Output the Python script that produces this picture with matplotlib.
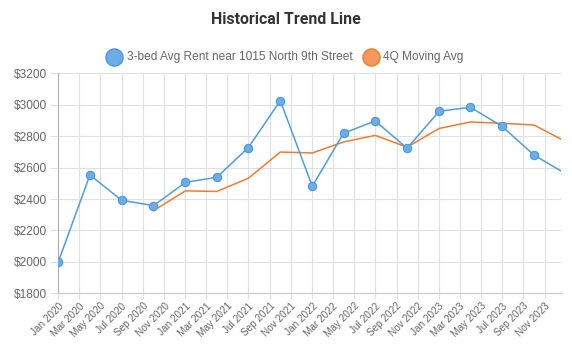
import matplotlib
matplotlib.use("Agg")
import matplotlib.pyplot as plt
import matplotlib.dates as mdates
from matplotlib.lines import Line2D
import datetime as dt

# ---- data ----
quarters = ["2020-01-01", "2020-04-01", "2020-07-01", "2020-10-01",
            "2021-01-01", "2021-04-01", "2021-07-01", "2021-10-01",
            "2022-01-01", "2022-04-01", "2022-07-01", "2022-10-01",
            "2023-01-01", "2023-04-01", "2023-07-01", "2023-10-01",
            "2024-01-01"]
rent = [2000, 2553, 2392, 2358, 2506, 2538, 2727, 3026,
        2481, 2818, 2897, 2723, 2958, 2984, 2863, 2680, 2560]
ma_quarters = quarters[3:]
moving_avg = [2326, 2452, 2448, 2532, 2699, 2693, 2763, 2805,
              2730, 2849, 2890, 2882, 2871, 2765]
series_names = ["3-bed Avg Rent near 1015 North 9th Street", "4Q Moving Avg"]
title = "Historical Trend Line"
y_ticks = [1800, 2000, 2200, 2400, 2600, 2800, 3000, 3200]

W, H = 572, 347
fig = plt.figure(figsize=(W / 100, H / 100), dpi=100)
L, R, T, B = 58.3, 561, 73.3, 293.3
ax = fig.add_axes([L / W, 1 - B / H, (R - L) / W, (B - T) / H])

dates = [dt.datetime.strptime(d, "%Y-%m-%d") for d in quarters]
ma_dates = [dt.datetime.strptime(d, "%Y-%m-%d") for d in ma_quarters]

blue_line = "#4e9de0"
blue_fill = "#6eace5"
blue_edge = "#4a97dd"
orange_line = "#f07b32"
orange_fill = "#f59a5c"
orange_edge = "#ef7c30"

ax.plot(ma_dates, moving_avg, color=orange_line, lw=1.1, zorder=3)
ax.plot(dates, rent, color=blue_line, lw=1.1, zorder=4,
        marker="o", markersize=6, markerfacecolor=blue_fill,
        markeredgecolor=blue_edge, markeredgewidth=0.8)

ax.set_xlim(dt.datetime(2020, 1, 1), dt.datetime(2023, 12, 18))
ax.set_ylim(1800, 3200)
ax.set_yticks(y_ticks)
ax.set_yticklabels([f"${v}" for v in y_ticks])
ax.xaxis.set_major_locator(mdates.MonthLocator(bymonth=[1, 3, 5, 7, 9, 11]))
ax.xaxis.set_major_formatter(mdates.DateFormatter("%b %Y"))

ax.grid(True, color="#e0e0e0", lw=0.8)
ax.set_axisbelow(True)
for s in ["top", "right"]:
    ax.spines[s].set_visible(False)
ax.spines["left"].set_color("#b0b0b0")
ax.spines["bottom"].set_color("#c8c8c8")
ax.tick_params(axis="both", colors="#e0e0e0", labelcolor="#666666",
               labelsize=8.6, length=6, width=0.8)
ax.tick_params(axis="y", pad=2)
ax.tick_params(axis="x", pad=1.5, labelsize=7.2, length=4)
for lab in ax.get_yticklabels():
    lab.set_fontfamily("Liberation Sans")
for lab in ax.get_xticklabels():
    lab.set_fontfamily("Liberation Sans")
    lab.set_rotation(45)
    lab.set_ha("right")
    lab.set_rotation_mode("anchor")

fig.text(285.7 / W, 1 - 19.5 / H, title, ha="center", va="center",
         fontsize=11.4, fontweight="bold", color="#333333", family="Roboto")

# legend (manual)
ly = 1 - 56.7 / H
fig.add_artist(Line2D([114 / W], [ly], transform=fig.transFigure, marker="o",
                      markersize=12.3, markerfacecolor=blue_fill,
                      markeredgecolor=blue_edge, markeredgewidth=1, linestyle="none"))
fig.text(126.7 / W, ly, series_names[0], ha="left", va="center",
         fontsize=8.6, color="#666666", family="Liberation Sans")
fig.add_artist(Line2D([370.7 / W], [ly], transform=fig.transFigure, marker="o",
                      markersize=12.3, markerfacecolor=orange_fill,
                      markeredgecolor=orange_edge, markeredgewidth=1, linestyle="none"))
fig.text(382.7 / W, ly, series_names[1], ha="left", va="center",
         fontsize=8.6, color="#666666", family="Liberation Sans")

fig.savefig("out.png", dpi=100)
